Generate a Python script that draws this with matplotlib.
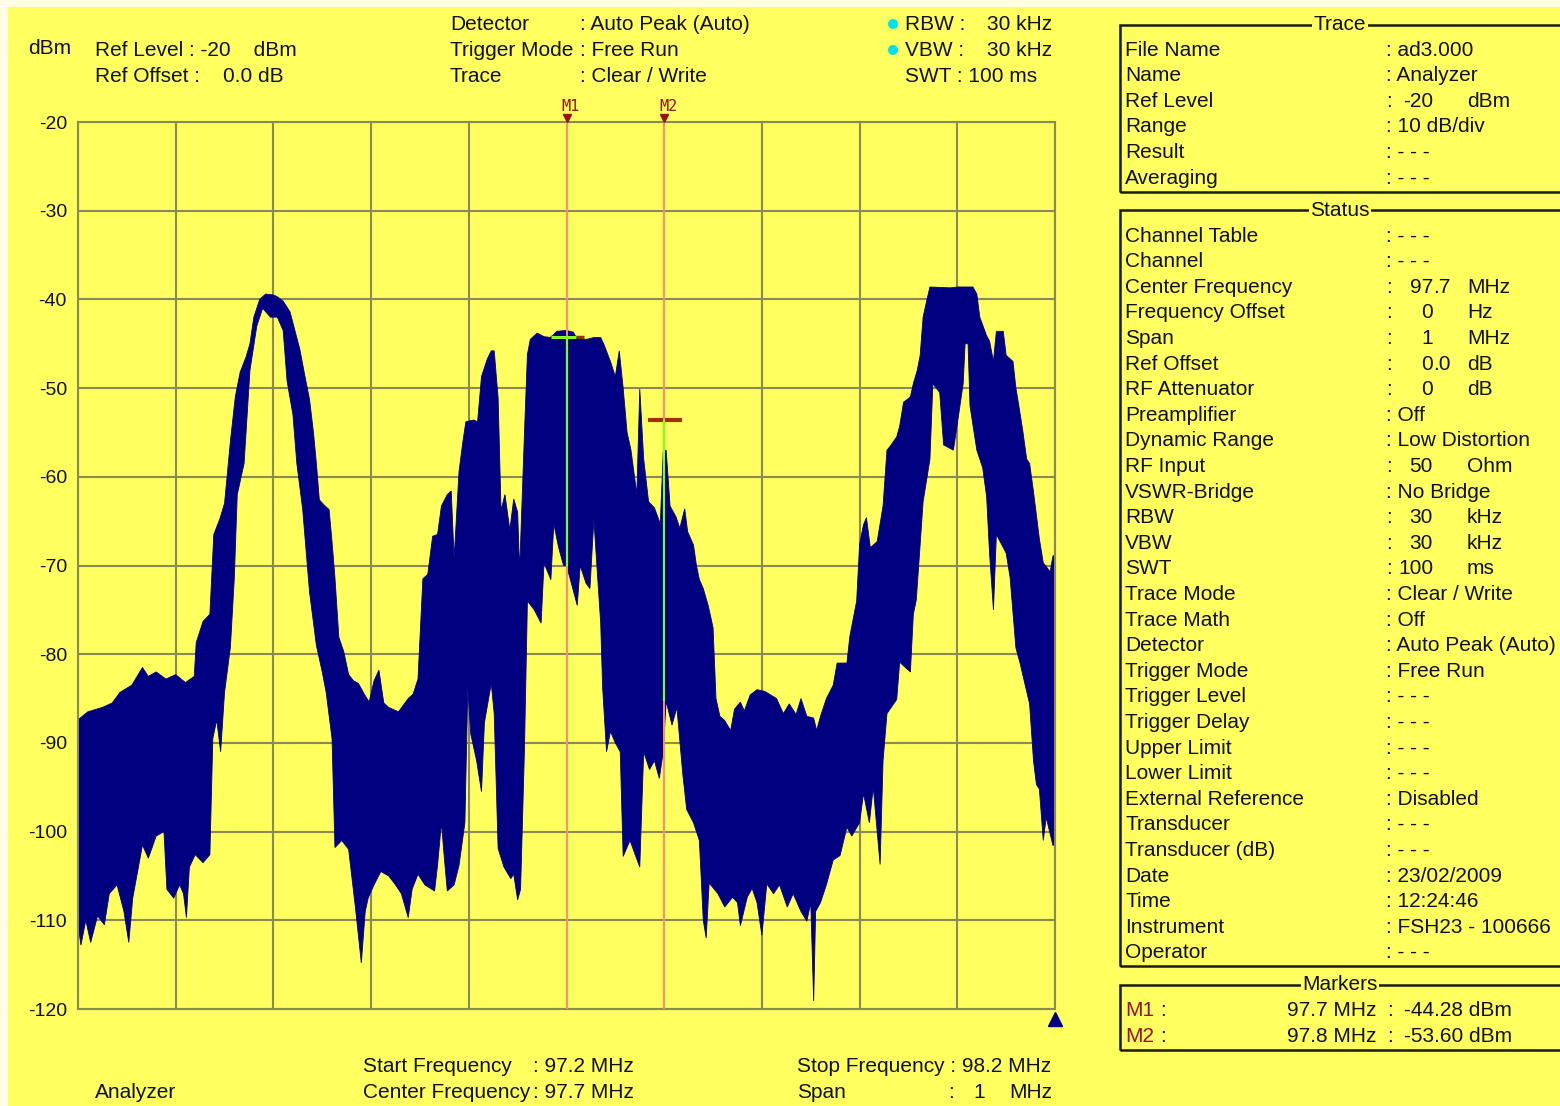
import numpy as np
import matplotlib
matplotlib.use("Agg")
import matplotlib.pyplot as plt
import matplotlib.patches as patches
import matplotlib.transforms as mtransforms

plt.rcParams['font.family'] = ['Liberation Sans', 'DejaVu Sans']

W, H = 1560, 1106

# ---- trace envelope (MHz, dBm) ----
upper_freq = [97.200, 97.210, 97.225, 97.235, 97.243, 97.255, 97.266, 97.272, 97.280, 97.290,
              97.300, 97.310, 97.319, 97.321, 97.328, 97.335, 97.339, 97.345, 97.350, 97.356,
              97.361, 97.366, 97.372, 97.376, 97.380, 97.386, 97.392, 97.400, 97.404, 97.410,
              97.417, 97.422, 97.427, 97.432, 97.437, 97.441, 97.444, 97.447, 97.452, 97.457,
              97.460, 97.463, 97.467, 97.472, 97.477, 97.482, 97.487, 97.493, 97.498, 97.503,
              97.508, 97.513, 97.518, 97.528, 97.538, 97.543, 97.548, 97.553, 97.558, 97.563,
              97.568, 97.572, 97.578, 97.582, 97.585, 97.590, 97.594, 97.597, 97.605, 97.609,
              97.613, 97.619, 97.623, 97.626, 97.630, 97.633, 97.637, 97.642, 97.646, 97.650,
              97.652, 97.657, 97.660, 97.663, 97.670, 97.677, 97.684, 97.690, 97.700, 97.707,
              97.711, 97.721, 97.728, 97.735, 97.738, 97.745, 97.750, 97.754, 97.758, 97.762,
              97.766, 97.772, 97.775, 97.779, 97.784, 97.790, 97.796, 97.799, 97.802, 97.806,
              97.812, 97.816, 97.821, 97.824, 97.830, 97.833, 97.836, 97.840, 97.845, 97.850,
              97.853, 97.857, 97.862, 97.868, 97.872, 97.878, 97.882, 97.888, 97.895, 97.903,
              97.909, 97.915, 97.922, 97.928, 97.935, 97.940, 97.946, 97.953, 97.956, 97.960,
              97.966, 97.973, 97.977, 97.987, 97.990, 97.997, 98.000, 98.004, 98.007, 98.011,
              98.018, 98.024, 98.028, 98.031, 98.038, 98.041, 98.045, 98.052, 98.055, 98.059,
              98.062, 98.065, 98.069, 98.072, 98.093, 98.100, 98.116, 98.120, 98.123, 98.130,
              98.133, 98.137, 98.140, 98.147, 98.150, 98.157, 98.160, 98.164, 98.167, 98.171,
              98.174, 98.178, 98.184, 98.188, 98.195, 98.198, 98.200]
upper_dbm = [-87.4, -86.5, -86.0, -85.5, -84.3, -83.5, -81.5, -82.5, -82.0, -82.8,
             -82.3, -83.2, -82.5, -78.7, -76.3, -75.5, -66.5, -64.8, -63.0, -56.0,
             -51.0, -48.2, -46.5, -45.0, -42.0, -40.0, -39.4, -39.5, -39.7, -40.2,
             -41.4, -43.5, -45.6, -48.5, -51.3, -55.0, -58.5, -62.6, -63.2, -63.7,
             -67.3, -71.4, -78.1, -79.7, -82.3, -83.0, -83.3, -84.5, -85.4, -83.0,
             -81.8, -85.5, -86.0, -86.5, -85.0, -84.5, -82.8, -71.5, -71.0, -66.7,
             -66.5, -63.3, -62.0, -61.6, -69.2, -59.4, -56.0, -53.8, -53.6, -53.8,
             -48.7, -46.7, -45.8, -45.8, -51.1, -63.8, -62.0, -66.0, -62.5, -64.0,
             -70.6, -55.0, -46.2, -44.5, -43.8, -44.2, -44.3, -43.6, -43.5, -43.7,
             -44.5, -44.5, -44.3, -44.3, -45.0, -47.0, -48.7, -45.8, -50.0, -55.0,
             -57.0, -62.0, -50.1, -58.0, -62.8, -63.5, -65.3, -57.2, -57.0, -63.3,
             -64.5, -65.8, -63.6, -66.2, -67.7, -70.0, -71.6, -72.6, -74.5, -77.0,
             -85.0, -87.0, -87.5, -88.6, -86.2, -85.4, -86.4, -84.6, -84.0, -84.2,
             -84.6, -85.0, -86.7, -85.6, -86.8, -85.0, -87.0, -87.2, -88.6, -87.0,
             -85.0, -83.5, -81.0, -81.0, -78.0, -74.0, -67.6, -65.4, -64.6, -68.0,
             -67.3, -63.3, -57.0, -56.6, -55.5, -54.3, -51.6, -51.0, -49.5, -48.0,
             -46.3, -42.0, -40.0, -38.6, -38.7, -38.6, -38.6, -39.4, -42.0, -44.1,
             -44.7, -47.0, -43.6, -43.6, -46.3, -47.0, -50.0, -52.7, -54.8, -58.0,
             -58.5, -61.7, -67.0, -69.7, -70.7, -68.9, -68.9]

lower_freq = [97.200, 97.203, 97.208, 97.213, 97.220, 97.227, 97.232, 97.240, 97.247, 97.252,
              97.256, 97.261, 97.266, 97.272, 97.280, 97.288, 97.291, 97.298, 97.304, 97.308,
              97.311, 97.314, 97.320, 97.328, 97.335, 97.338, 97.342, 97.346, 97.350, 97.356,
              97.360, 97.363, 97.370, 97.376, 97.383, 97.389, 97.397, 97.404, 97.410, 97.414,
              97.420, 97.424, 97.430, 97.437, 97.444, 97.450, 97.454, 97.460, 97.463, 97.470,
              97.477, 97.484, 97.490, 97.494, 97.497, 97.503, 97.510, 97.518, 97.525, 97.531,
              97.538, 97.542, 97.548, 97.555, 97.565, 97.568, 97.572, 97.575, 97.578, 97.585,
              97.590, 97.596, 97.599, 97.602, 97.608, 97.613, 97.616, 97.623, 97.626, 97.630,
              97.636, 97.643, 97.646, 97.650, 97.653, 97.657, 97.660, 97.667, 97.674, 97.677,
              97.684, 97.687, 97.692, 97.697, 97.700, 97.704, 97.711, 97.714, 97.720, 97.724,
              97.728, 97.735, 97.737, 97.741, 97.745, 97.750, 97.755, 97.758, 97.765, 97.770,
              97.775, 97.779, 97.785, 97.790, 97.795, 97.799, 97.802, 97.808, 97.813, 97.819,
              97.823, 97.830, 97.836, 97.840, 97.843, 97.846, 97.855, 97.862, 97.870, 97.875,
              97.878, 97.885, 97.890, 97.895, 97.900, 97.905, 97.912, 97.918, 97.926, 97.932,
              97.940, 97.946, 97.950, 97.953, 97.955, 97.960, 97.966, 97.973, 97.980, 97.987,
              97.992, 98.000, 98.004, 98.010, 98.014, 98.018, 98.021, 98.024, 98.028, 98.038,
              98.041, 98.052, 98.055, 98.058, 98.062, 98.065, 98.072, 98.075, 98.082, 98.086,
              98.096, 98.099, 98.106, 98.108, 98.111, 98.113, 98.120, 98.126, 98.130, 98.133,
              98.137, 98.140, 98.150, 98.154, 98.160, 98.164, 98.174, 98.178, 98.181, 98.184,
              98.188, 98.191, 98.198, 98.200]
lower_dbm = [-110.5, -112.8, -110.0, -112.5, -109.5, -110.5, -107.0, -106.0, -109.0, -112.5,
             -107.5, -104.5, -101.5, -103.0, -100.5, -100.0, -106.5, -107.5, -106.0, -107.0,
             -109.7, -104.0, -102.6, -103.5, -102.6, -89.5, -87.4, -91.0, -84.3, -79.2,
             -71.4, -62.0, -58.5, -48.0, -43.0, -41.0, -42.0, -42.0, -43.5, -49.2,
             -53.0, -58.5, -63.7, -73.0, -79.0, -82.0, -84.3, -89.5, -101.8, -101.0,
             -102.0, -108.6, -114.8, -109.0, -107.5, -106.0, -104.5, -105.0, -106.0, -107.0,
             -109.7, -106.5, -104.8, -106.0, -106.7, -103.8, -99.0, -103.0, -106.7, -106.0,
             -103.8, -99.0, -83.8, -89.0, -92.0, -95.5, -87.7, -83.3, -86.7, -101.9,
             -104.0, -105.3, -104.8, -107.7, -106.5, -90.6, -74.0, -75.0, -76.5, -69.7,
             -71.6, -65.3, -68.0, -70.0, -70.0, -71.6, -74.5, -70.0, -72.0, -72.6,
             -64.8, -76.5, -83.8, -91.0, -88.7, -90.0, -91.0, -102.8, -101.0, -102.5,
             -104.0, -91.0, -93.0, -92.0, -94.0, -91.0, -85.3, -88.0, -86.0, -93.5,
             -97.5, -99.0, -101.0, -110.0, -112.0, -105.8, -107.0, -108.5, -107.4, -108.0,
             -110.6, -107.4, -106.4, -108.0, -111.7, -105.9, -107.0, -106.0, -108.5, -107.0,
             -109.0, -110.1, -108.0, -119.1, -109.0, -108.0, -106.0, -103.2, -102.7, -99.5,
             -100.5, -99.0, -95.7, -99.0, -95.0, -100.0, -103.7, -92.0, -86.7, -85.1,
             -80.9, -82.0, -75.5, -73.9, -67.6, -62.8, -58.0, -49.5, -50.5, -56.4,
             -57.0, -54.8, -49.5, -45.0, -45.0, -52.0, -57.0, -59.0, -62.2, -68.6,
             -75.0, -66.5, -68.6, -71.3, -79.3, -80.9, -85.6, -92.0, -94.7, -95.2,
             -101.0, -98.4, -101.6, -101.0]

marker_names = ["M1", "M2"]
marker_freq = [97.7, 97.8]
marker_level = [-44.28, -53.60]
marker_trace_low = [-70.0, -85.3]

y_ticks = [-20, -30, -40, -50, -60, -70, -80, -90, -100, -110, -120]
x_grid = [97.2, 97.3, 97.4, 97.5, 97.6, 97.7, 97.8, 97.9, 98.0, 98.1, 98.2]

trace_rows = [("File Name", ": ad3.000"), ("Name", ": Analyzer"), ("Ref Level", ("-20", "dBm")),
              ("Range", ": 10 dB/div"), ("Result", ": - - -"), ("Averaging", ": - - -")]
status_rows = [("Channel Table", ": - - -"), ("Channel", ": - - -"),
               ("Center Frequency", ("97.7", "MHz")), ("Frequency Offset", ("0", "Hz")),
               ("Span", ("1", "MHz")), ("Ref Offset", ("0.0", "dB")),
               ("RF Attenuator", ("0", "dB")), ("Preamplifier", ": Off"),
               ("Dynamic Range", ": Low Distortion"), ("RF Input", ("50", "Ohm")),
               ("VSWR-Bridge", ": No Bridge"), ("RBW", ("30", "kHz")), ("VBW", ("30", "kHz")),
               ("SWT", ("100", "ms")), ("Trace Mode", ": Clear / Write"), ("Trace Math", ": Off"),
               ("Detector", ": Auto Peak (Auto)"), ("Trigger Mode", ": Free Run"),
               ("Trigger Level", ": - - -"), ("Trigger Delay", ": - - -"),
               ("Upper Limit", ": - - -"), ("Lower Limit", ": - - -"),
               ("External Reference", ": Disabled"), ("Transducer", ": - - -"),
               ("Transducer (dB)", ": - - -"), ("Date", ": 23/02/2009"), ("Time", ": 12:24:46"),
               ("Instrument", ": FSH23 - 100666"), ("Operator", ": - - -")]

YELLOW = "#ffff60"
GRID = "#8a8a55"
NAVY = "#000080"
DARKRED = "#9a1010"
FS = 15


def px(x, y):
    return x / W, 1 - y / H


def ftext(x, y, s, **kw):
    kw.setdefault("fontsize", FS)
    kw.setdefault("va", "center")
    kw.setdefault("color", "#111111")
    fig.text(*px(x, y), s, **kw)


fig = plt.figure(figsize=(W / 100, H / 100), dpi=100, facecolor="#fffde3")
fig.patches.append(patches.Rectangle(px(8, H), (W - 8) / W, (H - 7) / H,
                                     transform=fig.transFigure, facecolor=YELLOW,
                                     edgecolor="none", zorder=-10))

ax = fig.add_axes([*px(78, 1009), 977 / W, 887 / H])
ax.set_facecolor(YELLOW)
ax.set_xlim(97.2, 98.2)
ax.set_ylim(-120, -20)
for f in x_grid:
    ax.axvline(f, color=GRID, lw=1.5, zorder=0.5)
for t in y_ticks:
    ax.axhline(t, color=GRID, lw=1.5, zorder=0.5)
for s in ax.spines.values():
    s.set_color(GRID)
    s.set_linewidth(1.5)
ax.set_xticks([])
ax.set_yticks(y_ticks)
ax.set_yticklabels([str(t) for t in y_ticks])
ax.tick_params(axis="y", length=0, pad=8, labelsize=14, labelcolor="#111111")

# marker level bars (under trace)
ax.hlines(marker_level[0], 97.683, 97.718, color="#a03000", lw=2.5, zorder=1.5)
ax.hlines(marker_level[1], 97.783, 97.818, color="#a03000", lw=3, zorder=1.5)

# trace band: upper envelope forward, lower envelope back
ax.fill(np.concatenate([upper_freq, lower_freq[::-1]]),
        np.concatenate([upper_dbm, lower_dbm[::-1]]),
        color=NAVY, lw=0.6, ec=NAVY, zorder=2)

# markers
top_off = mtransforms.offset_copy(ax.transData, fig=fig, x=0, y=3, units="points")
for name, f, lev, low in zip(marker_names, marker_freq, marker_level, marker_trace_low):
    ax.axvline(f, color="#ff9070", lw=1.4, zorder=3)
    ax.vlines(f, low, lev, color="#80ff20", lw=1.6, zorder=4)
    ax.plot(f, -20, marker="v", ms=6, color=DARKRED, clip_on=False, zorder=5,
            transform=top_off)
    ax.annotate(name, xy=(f, -20), xytext=(3, 11), textcoords="offset points",
                ha="center", va="center", fontsize=11, family="DejaVu Sans Mono",
                color=DARKRED, annotation_clip=False)
ax.hlines(marker_level[0], 97.684, 97.710, color="#80ff20", lw=2.2, zorder=4)

bot_off = mtransforms.offset_copy(ax.transData, fig=fig, x=0, y=-7, units="points")
ax.plot(98.2, -120, marker="^", ms=10, color=NAVY, clip_on=False, transform=bot_off)

# ---- header ----
ftext(28, 48, "dBm")
ftext(95, 50, "Ref Level : -20    dBm")
ftext(95, 76, "Ref Offset :    0.0 dB")
for y, a, b in [(24, "Detector", ": Auto Peak (Auto)"), (50, "Trigger Mode", ": Free Run"),
                (76, "Trace", ": Clear / Write")]:
    ftext(450, y, a)
    ftext(580, y, b)
for y in (24, 50):
    fig.patches.append(patches.Ellipse(px(893, y), 10 / W, 10 / H, transform=fig.transFigure,
                                       facecolor="#00e0f0", edgecolor="none"))
ftext(905, 24, "RBW :")
ftext(1052, 24, "30 kHz", ha="right")
ftext(905, 50, "VBW :")
ftext(1052, 50, "30 kHz", ha="right")
ftext(905, 76, "SWT : 100 ms")

# ---- footer ----
ftext(95, 1093, "Analyzer")
ftext(363, 1067, "Start Frequency")
ftext(533, 1067, ": 97.2 MHz")
ftext(363, 1093, "Center Frequency")
ftext(533, 1093, ": 97.7 MHz")
ftext(797, 1067, "Stop Frequency : 98.2 MHz")
ftext(797, 1093, "Span")
ftext(948, 1093, ":")
ftext(973, 1093, "1")
ftext(1052, 1093, "MHz", ha="right")


# ---- right panel ----
def box(y0, y1, title):
    fig.patches.append(patches.Rectangle(px(1120, y1), 460 / W, (y1 - y0) / H,
                                         transform=fig.transFigure, fill=False,
                                         edgecolor="#1a1a1a", lw=1.8))
    ftext(1340, y0, title, ha="center",
          bbox=dict(facecolor=YELLOW, edgecolor="none", pad=1))


def rows(y0, items):
    for i, (label, val) in enumerate(items):
        y = y0 + i * 25.6
        ftext(1125, y, label)
        if isinstance(val, tuple):
            num, unit = val
            ftext(1386, y, ":")
            ip, dot, fr = num.partition(".")
            ftext(1433, y, ip, ha="right")
            if dot:
                ftext(1433, y, dot + fr)
            ftext(1467, y, unit)
        else:
            ftext(1386, y, val)


box(25, 192, "Trace")
rows(50, trace_rows)
box(210, 966, "Status")
rows(236, status_rows)
box(985, 1050, "Markers")
for i, (name, f, lev) in enumerate(zip(marker_names, marker_freq, marker_level)):
    y = 1010 + i * 26
    ftext(1125, y, name, color=DARKRED)
    ftext(1160, y, ":")
    ftext(1376, y, f"{f:.1f} MHz", ha="right")
    ftext(1387, y, ":")
    ftext(1404, y, f"{lev:.2f} dBm")

fig.savefig("out.png", dpi=100, facecolor=fig.get_facecolor())
